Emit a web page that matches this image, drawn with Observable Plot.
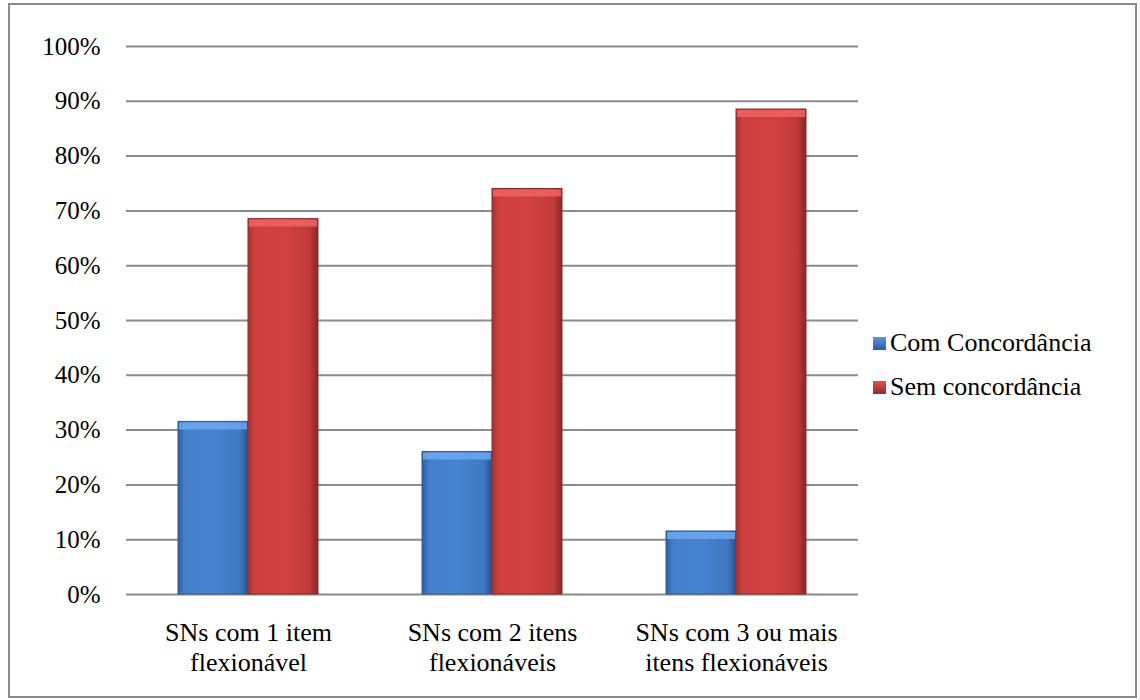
<!DOCTYPE html>
<html>
<head>
<meta charset="utf-8">
<script src="https://cdn.jsdelivr.net/npm/d3@7"></script>
<script src="https://cdn.jsdelivr.net/npm/@observablehq/plot@0.6"></script>
<style>
  body { margin: 0; background: #fff; }
  #wrap { position: relative; width: 1140px; height: 700px; overflow: hidden; background: #fff; font-family: 'Liberation Serif', 'Times New Roman', 'DejaVu Serif', serif; }
  #frame { position: absolute; left: 8px; top: 3px; width: 1125px; height: 691px; border: 2px solid #8a8a8a; box-sizing: content-box; }
  #chart { position: absolute; left: 0; top: 0; }
  #legend { position: absolute; left: 873px; top: 321px; font-size: 26px; color: #000; }
  .row { display: flex; align-items: center; height: 44px; }
  .sw { width: 13px; height: 13px; margin-right: 4px; }
</style>
</head>
<body>
<div id="wrap">
  <div id="frame"></div>
  <div id="chart"></div>
  <div id="legend"></div>
</div>
<script>
const categories = ["SNs com 1 item\nflexionável", "SNs com 2 itens\nflexionáveis", "SNs com 3 ou mais\nitens flexionáveis"];
const seriesNames = ["Com Concordância", "Sem concordância"];
const comValues = [0.315, 0.26, 0.115];
const semValues = [0.685, 0.74, 0.885];
const yTicks = [0, 0.1, 0.2, 0.3, 0.4, 0.5, 0.6, 0.7, 0.8, 0.9, 1];

const comData = categories.map((c, i) => ({category: c, series: seriesNames[0], value: comValues[i]}));
const semData = categories.map((c, i) => ({category: c, series: seriesNames[1], value: semValues[i]}));

const font = "'Liberation Serif', 'Times New Roman', 'DejaVu Serif', serif";

const chart = Plot.plot({
  width: 1140,
  height: 700,
  marginLeft: 126,
  marginRight: 282,
  marginTop: 46,
  marginBottom: 106,
  style: {fontFamily: font, fontSize: "25px", color: "#000", background: "transparent"},
  x: {domain: categories, padding: 0, label: null},
  y: {domain: [0, 1], label: null},
  marks: [
    Plot.ruleY(yTicks, {stroke: "#8a8a8a", strokeWidth: 2}),
    Plot.barY(comData, {x: "category", y: "value", fill: "url(#gBlue)", stroke: "#2f5a94", strokeWidth: 1, insetLeft: 52, insetRight: 122}),
    Plot.barY(semData, {x: "category", y: "value", fill: "url(#gRed)", stroke: "#8c2a2a", strokeWidth: 1, insetLeft: 122, insetRight: 52}),
    Plot.tickY(comData, {x: "category", y: "value", stroke: "#6ea8ee", strokeWidth: 7, dy: 4, insetLeft: 53, insetRight: 123, strokeOpacity: 0.85}),
    Plot.tickY(semData, {x: "category", y: "value", stroke: "#ee6464", strokeWidth: 7, dy: 4, insetLeft: 123, insetRight: 53, strokeOpacity: 0.85}),
    Plot.axisY({ticks: yTicks, tickFormat: d3.format(".0%"), tickSize: 0, tickPadding: 26, line: true, stroke: "#8a8a8a", strokeWidth: 2, fontSize: 25, fill: "#000"}),
    Plot.axisX({tickSize: 0, tickPadding: 26, fontSize: 26, lineHeight: 1.13, fill: "#000"})
  ]
});

// gradients for the bevelled look
const ns = "http://www.w3.org/2000/svg";
const defs = document.createElementNS(ns, "defs");
function grad(id, stops) {
  const g = document.createElementNS(ns, "linearGradient");
  g.setAttribute("id", id);
  g.setAttribute("x1", "0"); g.setAttribute("x2", "1"); g.setAttribute("y1", "0"); g.setAttribute("y2", "0");
  stops.forEach(([o, c]) => {
    const s = document.createElementNS(ns, "stop");
    s.setAttribute("offset", o); s.setAttribute("stop-color", c);
    g.appendChild(s);
  });
  defs.appendChild(g);
}
grad("gBlue", [["0", "#2f5e9e"], ["0.1", "#4580cc"], ["0.5", "#4683d0"], ["0.88", "#3f78c2"], ["1", "#2a528c"]]);
grad("gRed", [["0", "#a83232"], ["0.1", "#d03f3f"], ["0.5", "#d24141"], ["0.88", "#c03a3a"], ["1", "#862828"]]);
chart.insertBefore(defs, chart.firstChild);

document.getElementById("chart").appendChild(chart);

const legend = document.getElementById("legend");
const swatches = [["#5a96e0", "#2e5d9c"], ["#e05252", "#922c2c"]];
seriesNames.forEach((name, i) => {
  const row = document.createElement("div");
  row.className = "row";
  const sw = document.createElement("div");
  sw.className = "sw";
  sw.style.background = `linear-gradient(${swatches[i][0]}, ${swatches[i][1]})`;
  const t = document.createElement("span");
  t.textContent = name;
  row.appendChild(sw);
  row.appendChild(t);
  legend.appendChild(row);
});
</script>
</body>
</html>
